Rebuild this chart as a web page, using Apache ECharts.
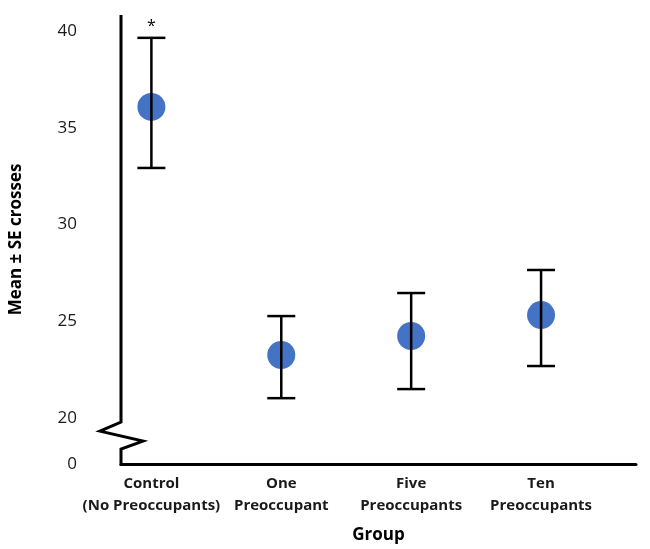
<!DOCTYPE html>
<html>
<head>
<meta charset="utf-8">
<script src="https://cdn.jsdelivr.net/npm/echarts@6/dist/echarts.min.js"></script>
<style>html,body{margin:0;padding:0;background:#fff}#c{width:650px;height:549px}</style>
</head>
<body>
<div id="c"></div>
<script>
// ---- data ----
const categories = ['Control\n(No Preoccupants)', 'One\nPreoccupant', 'Five\nPreoccupants', 'Ten\nPreoccupants'];
const means = [36.07, 23.26, 24.24, 25.32];
const upper = [39.64, 25.27, 26.46, 27.65];
const lower = [32.92, 21.03, 21.50, 22.69];
const significance = ['*', '', '', ''];
const yTickValues = [20, 25, 30, 35, 40];
const yBreakLabel = '0';

// ---- axis layout ----
const yMin = 17.63, yMax = 40.82;
const xMin = -0.234, xMax = 3.731;

const chart = echarts.init(document.getElementById('c'), null, {renderer: 'canvas'});
const font = '"Open Sans", "Liberation Sans", sans-serif';

const scatterData = means.map((m, i) => [i, m]);
const errData = means.map((m, i) => [i, lower[i], upper[i], significance[i]]);

chart.setOption({
  animation: false,
  grid: {left: 121, right: 14, top: 15, bottom: 84},
  xAxis: {
    type: 'value', min: xMin, max: xMax,
    splitLine: {show: false},
    axisTick: {show: false},
    axisLine: {show: true, onZero: false, lineStyle: {color: '#000', width: 3}},
    axisLabel: {
      customValues: categories.map((c, i) => i),
      formatter: v => categories[Math.round(v)],
      fontFamily: font, fontWeight: 'bold', fontSize: 15, color: '#1a1a1a',
      lineHeight: 22, margin: 9
    },
    name: 'Group', nameLocation: 'middle', nameGap: 63,
    nameTextStyle: {fontFamily: font, fontWeight: 'bold', fontSize: 17, color: '#000'}
  },
  yAxis: {
    type: 'value', min: yMin, max: yMax,
    splitLine: {show: false},
    axisTick: {show: false},
    axisLine: {show: false},
    axisLabel: {
      customValues: [yMin].concat(yTickValues),
      formatter: v => (v < 19 ? yBreakLabel : String(Math.round(v))),
      fontFamily: font, fontSize: 17, color: '#1a1a1a', margin: 44
    },
    name: 'Mean ± SE crosses', nameLocation: 'middle', nameGap: 96, nameRotate: 90,
    nameTextStyle: {fontFamily: font, fontWeight: 'bold', fontSize: 17, color: '#000'}
  },
  series: [
    {
      type: 'scatter', data: scatterData, symbolSize: 28, z: 2,
      itemStyle: {color: '#4472C4', opacity: 1}
    },
    {
      type: 'custom', z: 3,
      data: errData,
      renderItem: function (params, api) {
        const x = api.value(0);
        const lo = api.coord([x, api.value(1)]);
        const hi = api.coord([x, api.value(2)]);
        const sig = api.value(3);
        const half = 14;
        const st = {stroke: '#000', lineWidth: 2.5};
        const children = [
          {type: 'line', shape: {x1: hi[0], y1: hi[1], x2: lo[0], y2: lo[1]}, style: st},
          {type: 'line', shape: {x1: hi[0] - half, y1: hi[1], x2: hi[0] + half, y2: hi[1]}, style: st},
          {type: 'line', shape: {x1: lo[0] - half, y1: lo[1], x2: lo[0] + half, y2: lo[1]}, style: st}
        ];
        if (sig) {
          children.push({type: 'text', style: {text: sig, x: hi[0], y: hi[1] - 3, align: 'center', verticalAlign: 'bottom',
            font: '16px ' + font, fill: '#000'}});
        }
        return {type: 'group', children: children};
      }
    }
  ]
});

// broken y-axis line drawn from axis coordinates
const pTop = chart.convertToPixel({gridIndex: 0}, [xMin, yMax]);
const pBot = chart.convertToPixel({gridIndex: 0}, [xMin, yMin]);
const p20 = chart.convertToPixel({gridIndex: 0}, [xMin, 20]);
const ax = pTop[0];
const b0 = p20[1] + 4;
chart.setOption({
  graphic: [{
    type: 'polyline', z: 10,
    shape: {points: [
      [ax, pTop[1]], [ax, b0], [ax - 21, b0 + 9], [ax + 22, b0 + 19], [ax, b0 + 27], [ax, pBot[1] + 1.5]
    ]},
    style: {stroke: '#000', lineWidth: 3, fill: null, lineJoin: 'miter'}
  }]
});
</script>
</body>
</html>
